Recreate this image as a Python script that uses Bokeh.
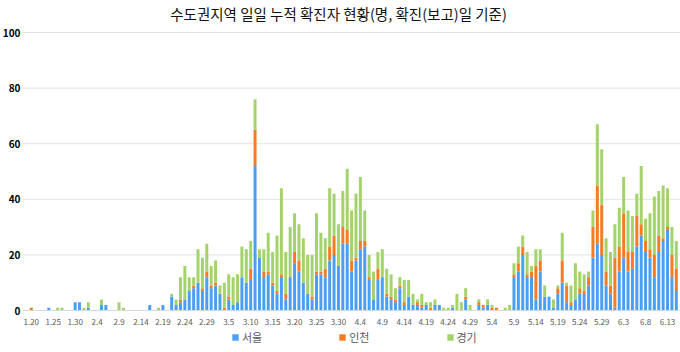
import datetime
from bokeh.plotting import figure
from bokeh.models import Legend, LegendItem, ColumnDataSource
from bokeh.core.properties import value
from bokeh.embed import file_html
from bokeh.resources import INLINE

# categories: daily dates 1.20 .. 6.15 (2020)
start = datetime.date(2020, 1, 20)
dates = [f"{(start + datetime.timedelta(days=k)).month}.{(start + datetime.timedelta(days=k)).day}" for k in range(148)]

seoul = [0,0,0,0,1,0,0,0,0,0, 3,3,0,1,0,0,2,2,0,0,
         0,0,0,0,0,0,0,2,0,0, 2,0,5,2,3,4,7,8,10,7,
         12,8,9,6,0,4,2,3,12,10, 11,52,19,12,13,9,6,12,4,12,
         17,14,10,6,4,13,13,12,18,20, 16,24,24,14,18,22,23,11,4,11,
         12,5,4,3,8,2,5,2,2,1, 2,0,2,2,0,0,1,0,0,4,
         0,0,2,1,2,0,0,0,0,0, 12,14,20,12,12,4,14,5,5,1,
         6,10,3,2,4,6,6,9,19,24, 20,9,6,1,14,19,14,15,23,27,
         21,19,12,21,25,29,12,7]
incheon = [1,0,0,0,0,0,0,0,0,0, 0,0,0,0,0,0,0,0,0,0,
           0,0,0,0,0,0,0,0,0,0, 0,0,0,0,1,0,0,1,0,1,
           2,1,1,0,1,1,0,0,0,0, 4,13,0,2,1,1,1,1,2,0,
           4,4,0,0,1,1,1,3,5,7, 0,6,5,4,1,3,2,1,0,4,
           0,1,1,1,1,1,0,0,1,1, 0,1,0,0,0,0,0,0,0,1,
           0,0,1,1,0,1,1,0,0,0, 1,3,3,1,2,12,4,0,0,0,
           2,8,6,1,0,2,1,3,11,21, 18,5,3,18,9,16,7,6,11,4,
           4,3,8,6,1,1,8,8]
gyeonggi = [0,0,0,0,0,0,1,1,0,0, 0,0,1,2,0,0,2,0,0,0,
            3,1,0,0,0,0,0,0,0,1, 0,0,1,2,8,12,5,3,12,11,
            10,7,8,3,9,8,10,10,11,12, 10,11,3,8,14,11,20,31,15,18,
            14,13,16,14,15,21,14,11,21,15, 15,13,22,18,23,23,11,8,10,6,
            10,9,8,4,3,8,6,4,1,4, 1,2,2,0,1,1,1,6,3,3,
            2,0,1,0,2,1,0,0,1,2, 4,6,4,8,2,6,4,4,0,3,
            1,10,1,6,13,6,6,2,6,22, 20,12,12,12,14,13,15,13,8,21,
            8,13,21,16,19,14,10,10]

tick_labels = ["1.20","1.25","1.30","2.4","2.9","2.14","2.19","2.24","2.29","3.5",
               "3.10","3.15","3.20","3.25","3.30","4.4","4.9","4.14","4.19","4.24",
               "4.29","5.4","5.9","5.14","5.19","5.24","5.29","6.3","6.8","6.13"]
y_ticks = [0, 20, 40, 60, 80, 100]
series_names = ["서울", "인천", "경기"]
colors = ["#4a9ff5", "#f57c22", "#a4d36b"]
title_text = "수도권지역 일일 누적 확진자 현황(명, 확진(보고)일 기준)"

tick_pos = [dates.index(t) for t in tick_labels]

# layout (pixels): plot area from x=22 to 678, value 0 at y=310, 100 at y=32
W, H = 680, 352
PL, PR = 22, 678
ppx = (PR - PL) / (len(dates) + 1.5)          # categories -2 .. last+0.5
ppy = (310 - 32) / 100.0
XL = -2.0                                      # data x at plot-area left
X0 = XL - PL / ppx
X1 = XL + (W - PL) / ppx
Y0 = -(H - 310) / ppy
Y1 = 310 / ppy

src = ColumnDataSource(dict(x=list(range(len(dates))), seoul=seoul, incheon=incheon, gyeonggi=gyeonggi))
xlab_src = ColumnDataSource(dict(x=tick_pos, y=[-4.0] * len(tick_pos), t=tick_labels))
ylab_src = ColumnDataSource(dict(x=[X0 + 20 / ppx] * len(y_ticks), y=y_ticks, t=[str(v) for v in y_ticks]))
grid_src = ColumnDataSource(dict(x0=[XL] * (len(y_ticks) - 1), x1=[X1] * (len(y_ticks) - 1),
                                 y=y_ticks[1:]))

FONT = "Noto Sans CJK KR"

p = figure(width=W, height=H, x_range=(X0, X1), y_range=(Y0, Y1),
           output_backend="svg", toolbar_location=None,
           min_border_left=0, min_border_right=0, min_border_top=0, min_border_bottom=0)
p.xaxis.visible = False
p.yaxis.visible = False
p.xgrid.grid_line_color = None
p.ygrid.grid_line_color = None
p.outline_line_color = None

# horizontal gridlines
p.segment(x0="x0", x1="x1", y0="y", y1="y", source=grid_src, line_color="#e3e3e3", line_width=1)

rs = p.vbar_stack(["seoul", "incheon", "gyeonggi"], x="x", width=0.68, color=colors,
                  line_color=None, source=src)

# baseline of the category axis
p.segment(x0=[XL], x1=[X1], y0=[0], y1=[0], line_color="#d9d9d9", line_width=1)

# category tick labels
p.text(x="x", y="y", text="t", source=xlab_src, text_font=value(FONT), text_font_size="8px",
       text_color="#595959", text_align="center", text_baseline="middle")

# value tick labels
p.text(x="x", y="y", text="t", source=ylab_src, text_font=value(FONT), text_font_size="10px",
       text_font_style="bold", text_color="#000000", text_align="right", text_baseline="middle")

# chart title
p.text(x=[X0 + 338 / ppx], y=[Y1 - 13 / ppy], text=[title_text],
       text_font=value(FONT), text_font_size="14.5px", text_color="#111111",
       text_align="center", text_baseline="middle")

legend = Legend(items=[LegendItem(label=n, renderers=[r]) for n, r in zip(series_names, rs)],
                orientation="horizontal", location=(231, 7), spacing=76,
                label_text_font=FONT, label_text_font_size="11px", label_text_color="#595959",
                glyph_width=8, glyph_height=8, label_standoff=3, label_height=12,
                padding=0, margin=0, border_line_color=None, background_fill_alpha=0)
p.add_layout(legend)

open("out.html", "w").write(file_html(p, INLINE))
